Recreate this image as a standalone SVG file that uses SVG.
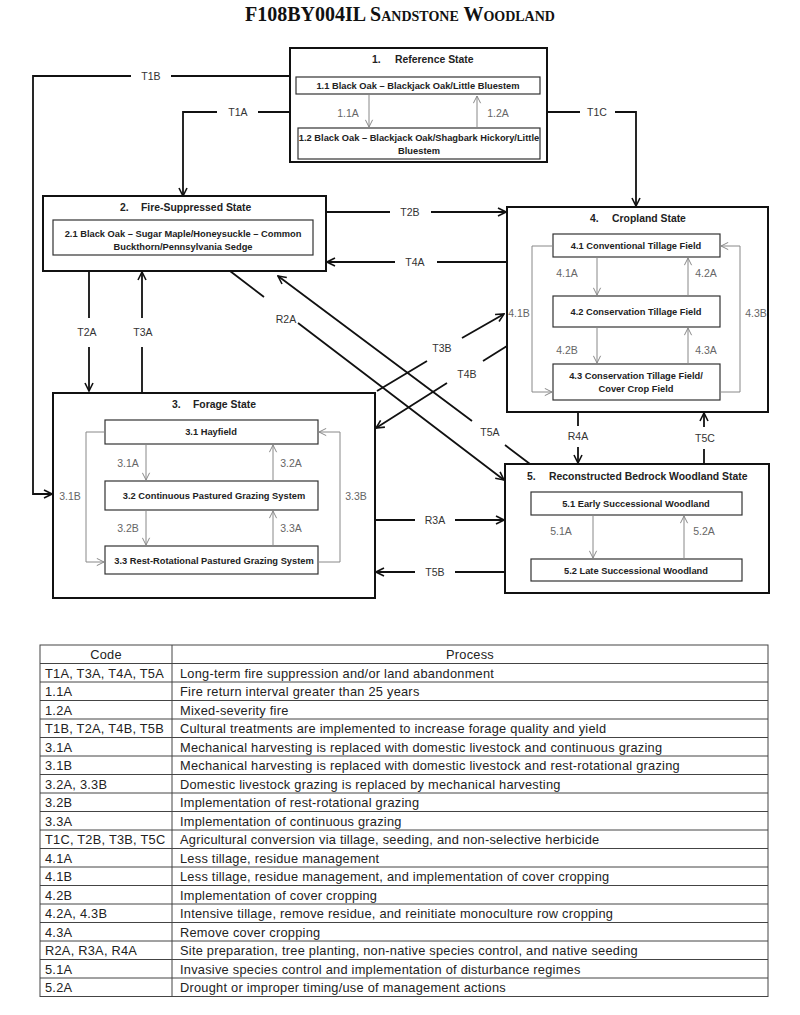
<svg xmlns="http://www.w3.org/2000/svg" width="800" height="1015" viewBox="0 0 800 1015">
<defs>
<marker id="ab" viewBox="0 0 10 10" refX="9" refY="5" markerWidth="10" markerHeight="10" markerUnits="userSpaceOnUse" orient="auto">
<path d="M1,1 L9,5 L1,9" fill="none" stroke="#111" stroke-width="1.6"/>
</marker>
<marker id="ag" viewBox="0 0 10 10" refX="9" refY="5" markerWidth="9" markerHeight="9" markerUnits="userSpaceOnUse" orient="auto">
<path d="M1,1 L9,5 L1,9" fill="none" stroke="#888" stroke-width="1.1"/>
</marker>
</defs>
<style>
.st{fill:#fff;stroke:#111;stroke-width:2}
.in{fill:#fff;stroke:#333;stroke-width:1.2}
.ttl{font-family:"Liberation Sans",Arial,sans-serif;font-weight:bold;font-size:10.4px;fill:#222}
.ph{font-family:"Liberation Sans",Arial,sans-serif;font-weight:bold;font-size:9.3px;fill:#222;text-anchor:middle}
.tl{font-family:"Liberation Sans",Arial,sans-serif;font-size:10.5px;fill:#333;text-anchor:middle}
.cl{font-family:"Liberation Sans",Arial,sans-serif;font-size:10.5px;fill:#666;text-anchor:middle}
.bk{fill:none;stroke:#111;stroke-width:1.8}
.gr{fill:none;stroke:#888;stroke-width:1}
.tb{font-family:"Liberation Sans",Arial,sans-serif;font-size:12.8px;letter-spacing:0.25px;fill:#222}
.tline{stroke:#444;stroke-width:1}
</style>
<rect width="800" height="1015" fill="#fff"/>
<text x="400" y="21" text-anchor="middle" font-family="Liberation Serif,Times New Roman,serif" font-weight="bold" font-size="20" fill="#111">F108BY004IL <tspan font-variant="small-caps">Sandstone Woodland</tspan></text>

<g id="state1">
<rect class="st" x="290" y="48" width="257" height="114"/>
<text class="ttl" x="372" y="63">1.<tspan x="395">Reference State</tspan></text>
<g id="c1-1"><rect class="in" x="296" y="77" width="244" height="17"/>
<text class="ph" x="418" y="89">1.1 Black Oak – Blackjack Oak/Little Bluestem</text></g>
<g id="c1-2"><rect class="in" x="298" y="128" width="242" height="31"/>
<text class="ph" x="419" y="141">1.2 Black Oak – Blackjack Oak/Shagbark Hickory/Little</text>
<text class="ph" x="419" y="154">Bluestem</text></g>
</g>

<g id="state2">
<rect class="st" x="43" y="196" width="283" height="75"/>
<text class="ttl" x="120" y="211">2.<tspan x="141">Fire-Suppressed State</tspan></text>
<g id="c2-1"><rect class="in" x="53" y="220" width="260" height="35"/>
<text class="ph" x="183" y="237">2.1 Black Oak – Sugar Maple/Honeysuckle – Common</text>
<text class="ph" x="183" y="250">Buckthorn/Pennsylvania Sedge</text></g>
</g>

<g id="state4">
<rect class="st" x="507" y="207" width="261" height="205"/>
<text class="ttl" x="590" y="222">4.<tspan x="612">Cropland State</tspan></text>
<g id="c4-1"><rect class="in" x="553" y="234" width="167" height="23"/>
<text class="ph" x="636" y="249">4.1 Conventional Tillage Field</text></g>
<g id="c4-2"><rect class="in" x="553" y="296" width="167" height="31"/>
<text class="ph" x="636" y="315">4.2 Conservation Tillage Field</text></g>
<g id="c4-3"><rect class="in" x="553" y="364" width="167" height="36"/>
<text class="ph" x="636" y="379">4.3 Conservation Tillage Field/</text>
<text class="ph" x="636" y="392">Cover Crop Field</text></g>
</g>

<g id="state3">
<rect class="st" x="53" y="393" width="322" height="205"/>
<text class="ttl" x="172" y="408">3.<tspan x="193">Forage State</tspan></text>
<g id="c3-1"><rect class="in" x="105" y="420" width="213" height="24"/>
<text class="ph" x="211" y="435">3.1 Hayfield</text></g>
<g id="c3-2"><rect class="in" x="105" y="481" width="213" height="29"/>
<text class="ph" x="214" y="499">3.2 Continuous Pastured Grazing System</text></g>
<g id="c3-3"><rect class="in" x="105" y="546" width="213" height="28"/>
<text class="ph" x="214" y="564">3.3 Rest-Rotational Pastured Grazing System</text></g>
</g>

<g id="state5">
<rect class="st" x="505" y="464" width="264" height="129"/>
<text class="ttl" x="527" y="480">5.<tspan x="549">Reconstructed Bedrock Woodland State</tspan></text>
<g id="c5-1"><rect class="in" x="531" y="492" width="211" height="23"/>
<text class="ph" x="636" y="507">5.1 Early Successional Woodland</text></g>
<g id="c5-2"><rect class="in" x="531" y="559" width="211" height="22"/>
<text class="ph" x="636" y="574">5.2 Late Successional Woodland</text></g>
</g>

<g id="connectors">
<path class="bk" d="M290,76 H171 M131,76 H33 V494 H52" marker-end="url(#ab)"/>
<path class="bk" d="M290,112 H258 M217,112 H183 V196" marker-end="url(#ab)"/>
<path class="bk" d="M547,112 H580 M615,112 H636 V206" marker-end="url(#ab)"/>
<path class="bk" d="M327,212 H390 M431,212 H506" marker-end="url(#ab)"/>
<path class="bk" d="M507,262 H437 M395,262 H327" marker-end="url(#ab)"/>
<path class="bk" d="M89,272 V318 M89,347 V391" marker-end="url(#ab)"/>
<path class="bk" d="M142,393 V347 M142,318 V272" marker-end="url(#ab)"/>
<path class="bk" d="M230,271 L264,297 M298,323 L504,480" marker-end="url(#ab)"/>
<path class="bk" d="M530,464 L505,445 M472,421 L278,276" marker-end="url(#ab)"/>
<path class="bk" d="M377,391 L427,361 M462,338 L504,314" marker-end="url(#ab)"/>
<path class="bk" d="M507,346 L483,361 M447,383 L376,428" marker-end="url(#ab)"/>
<path class="bk" d="M375,520 H415 M455,520 H504" marker-end="url(#ab)"/>
<path class="bk" d="M505,572 H455 M415,572 H376" marker-end="url(#ab)"/>
<path class="bk" d="M578,413 V426 M578,447 V463" marker-end="url(#ab)"/>
<path class="bk" d="M704,464 V449 M704,427 V413" marker-end="url(#ab)"/>
<path class="gr" d="M369,95 V127" marker-end="url(#ag)"/>
<path class="gr" d="M477,128 V96" marker-end="url(#ag)"/>
<path class="gr" d="M597,257 V295" marker-end="url(#ag)"/>
<path class="gr" d="M688,296 V258" marker-end="url(#ag)"/>
<path class="gr" d="M597,327 V363" marker-end="url(#ag)"/>
<path class="gr" d="M688,364 V328" marker-end="url(#ag)"/>
<path class="gr" d="M553,246 H532 V392 H552" marker-end="url(#ag)"/>
<path class="gr" d="M720,392 H740 V246 H721" marker-end="url(#ag)"/>
<path class="gr" d="M146,444 V480" marker-end="url(#ag)"/>
<path class="gr" d="M273,481 V445" marker-end="url(#ag)"/>
<path class="gr" d="M146,510 V545" marker-end="url(#ag)"/>
<path class="gr" d="M273,546 V511" marker-end="url(#ag)"/>
<path class="gr" d="M105,432 H86 V562 H104" marker-end="url(#ag)"/>
<path class="gr" d="M318,562 H340 V432 H319" marker-end="url(#ag)"/>
<path class="gr" d="M593,515 V558" marker-end="url(#ag)"/>
<path class="gr" d="M684,559 V516" marker-end="url(#ag)"/>
<text class="tl" x="151" y="80">T1B</text>
<text class="tl" x="238" y="116">T1A</text>
<text class="tl" x="597" y="116">T1C</text>
<text class="tl" x="410" y="216">T2B</text>
<text class="tl" x="415" y="266">T4A</text>
<text class="tl" x="87" y="336">T2A</text>
<text class="tl" x="143" y="336">T3A</text>
<text class="tl" x="286" y="323">R2A</text>
<text class="tl" x="490" y="436">T5A</text>
<text class="tl" x="442" y="352">T3B</text>
<text class="tl" x="467" y="378">T4B</text>
<text class="tl" x="435" y="524">R3A</text>
<text class="tl" x="435" y="576">T5B</text>
<text class="tl" x="578" y="440">R4A</text>
<text class="tl" x="705" y="442">T5C</text>
<text class="cl" x="348" y="117">1.1A</text>
<text class="cl" x="498" y="117">1.2A</text>
<text class="cl" x="567" y="277">4.1A</text>
<text class="cl" x="706" y="277">4.2A</text>
<text class="cl" x="567" y="354">4.2B</text>
<text class="cl" x="706" y="354">4.3A</text>
<text class="cl" x="519" y="317">4.1B</text>
<text class="cl" x="756" y="317">4.3B</text>
<text class="cl" x="128" y="467">3.1A</text>
<text class="cl" x="291" y="467">3.2A</text>
<text class="cl" x="128" y="532">3.2B</text>
<text class="cl" x="291" y="532">3.3A</text>
<text class="cl" x="70" y="500">3.1B</text>
<text class="cl" x="356" y="500">3.3B</text>
<text class="cl" x="561" y="535">5.1A</text>
<text class="cl" x="704" y="535">5.2A</text>
</g>

<g id="table">
<rect x="40" y="645" width="728" height="351.5" fill="#fff" stroke="#444" stroke-width="1"/>
<line class="tline" x1="172" y1="645" x2="172" y2="996.5"/>
<g class="tline">
<line x1="40" y1="663.5" x2="768" y2="663.5"/>
<line x1="40" y1="682" x2="768" y2="682"/>
<line x1="40" y1="700.5" x2="768" y2="700.5"/>
<line x1="40" y1="719" x2="768" y2="719"/>
<line x1="40" y1="737.5" x2="768" y2="737.5"/>
<line x1="40" y1="756" x2="768" y2="756"/>
<line x1="40" y1="774.5" x2="768" y2="774.5"/>
<line x1="40" y1="793" x2="768" y2="793"/>
<line x1="40" y1="811.5" x2="768" y2="811.5"/>
<line x1="40" y1="830" x2="768" y2="830"/>
<line x1="40" y1="848.5" x2="768" y2="848.5"/>
<line x1="40" y1="867" x2="768" y2="867"/>
<line x1="40" y1="885.5" x2="768" y2="885.5"/>
<line x1="40" y1="904" x2="768" y2="904"/>
<line x1="40" y1="922.5" x2="768" y2="922.5"/>
<line x1="40" y1="941" x2="768" y2="941"/>
<line x1="40" y1="959.5" x2="768" y2="959.5"/>
<line x1="40" y1="978" x2="768" y2="978"/>
</g>
<text class="tb" x="106" y="659" text-anchor="middle">Code</text>
<text class="tb" x="470" y="659" text-anchor="middle">Process</text>
<text class="tb" x="45" y="677.5">T1A, T3A, T4A, T5A</text><text class="tb" x="180" y="677.5">Long-term fire suppression and/or land abandonment</text>
<text class="tb" x="45" y="696">1.1A</text><text class="tb" x="180" y="696">Fire return interval greater than 25 years</text>
<text class="tb" x="45" y="714.5">1.2A</text><text class="tb" x="180" y="714.5">Mixed-severity fire</text>
<text class="tb" x="45" y="733">T1B, T2A, T4B, T5B</text><text class="tb" x="180" y="733">Cultural treatments are implemented to increase forage quality and yield</text>
<text class="tb" x="45" y="751.5">3.1A</text><text class="tb" x="180" y="751.5">Mechanical harvesting is replaced with domestic livestock and continuous grazing</text>
<text class="tb" x="45" y="770">3.1B</text><text class="tb" x="180" y="770">Mechanical harvesting is replaced with domestic livestock and rest-rotational grazing</text>
<text class="tb" x="45" y="788.5">3.2A, 3.3B</text><text class="tb" x="180" y="788.5">Domestic livestock grazing is replaced by mechanical harvesting</text>
<text class="tb" x="45" y="807">3.2B</text><text class="tb" x="180" y="807">Implementation of rest-rotational grazing</text>
<text class="tb" x="45" y="825.5">3.3A</text><text class="tb" x="180" y="825.5">Implementation of continuous grazing</text>
<text class="tb" x="45" y="844">T1C, T2B, T3B, T5C</text><text class="tb" x="180" y="844">Agricultural conversion via tillage, seeding, and non-selective herbicide</text>
<text class="tb" x="45" y="862.5">4.1A</text><text class="tb" x="180" y="862.5">Less tillage, residue management</text>
<text class="tb" x="45" y="881">4.1B</text><text class="tb" x="180" y="881">Less tillage, residue management, and implementation of cover cropping</text>
<text class="tb" x="45" y="899.5">4.2B</text><text class="tb" x="180" y="899.5">Implementation of cover cropping</text>
<text class="tb" x="45" y="918">4.2A, 4.3B</text><text class="tb" x="180" y="918">Intensive tillage, remove residue, and reinitiate monoculture row cropping</text>
<text class="tb" x="45" y="936.5">4.3A</text><text class="tb" x="180" y="936.5">Remove cover cropping</text>
<text class="tb" x="45" y="955">R2A, R3A, R4A</text><text class="tb" x="180" y="955">Site preparation, tree planting, non-native species control, and native seeding</text>
<text class="tb" x="45" y="973.5">5.1A</text><text class="tb" x="180" y="973.5">Invasive species control and implementation of disturbance regimes</text>
<text class="tb" x="45" y="992">5.2A</text><text class="tb" x="180" y="992">Drought or improper timing/use of management actions</text>
</g>
</svg>
